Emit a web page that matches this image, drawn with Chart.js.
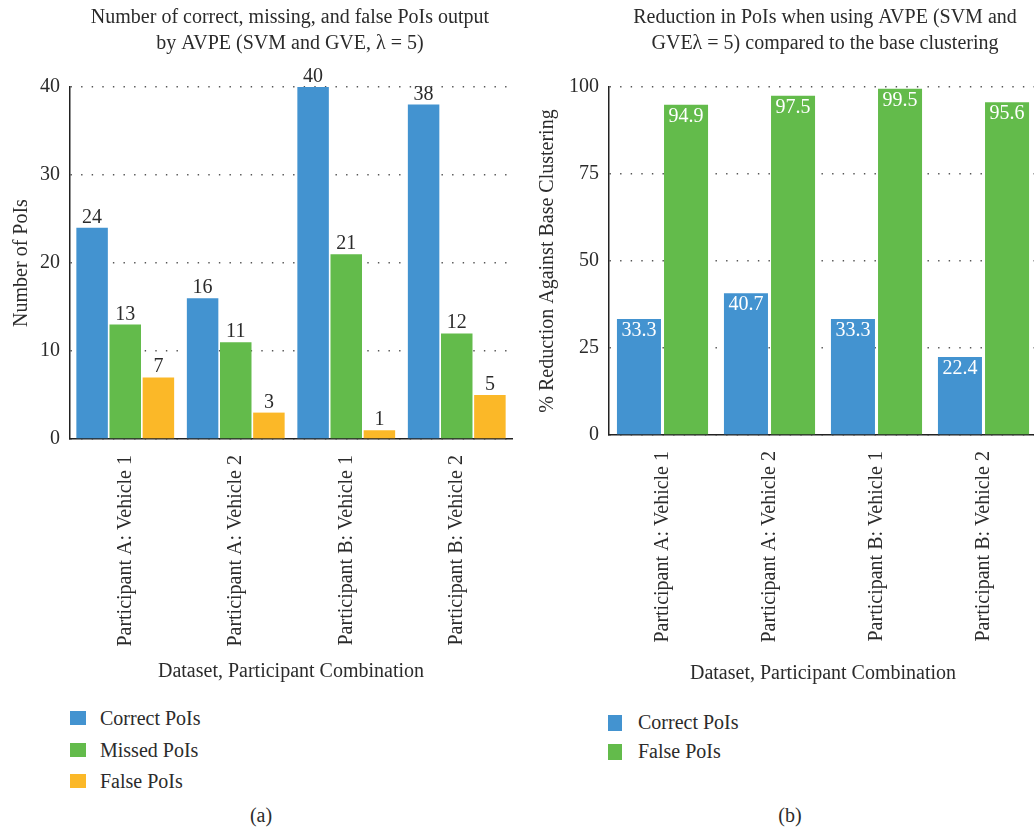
<!DOCTYPE html>
<html>
<head>
<meta charset="utf-8">
<script src="https://cdn.jsdelivr.net/npm/chart.js@4/dist/chart.umd.min.js"></script>
<style>
  body { margin: 0; width: 1034px; height: 829px; overflow: hidden; background: #fff;
         position: relative; font-family: "Liberation Serif", serif; color: #2b2b2b; }
  .panel { position: absolute; top: 0; }
  .key { position: absolute; font-size: 20px; line-height: 22px; white-space: nowrap; }
  .key span { position: absolute; top: 4px; left: 0; }
  .key b { font-weight: normal; position: absolute; left: 30px; top: 0; }
  .cap { position: absolute; top: 804px; font-size: 20px; transform: translateX(-50%); }
</style>
</head>
<body>
<div class="panel" style="left:0;width:580px;height:700px"><canvas id="countChart" width="580" height="700"></canvas></div>
<div class="panel" style="left:520px;width:610px;height:700px"><canvas id="reductionChart" width="610" height="700"></canvas></div>
<div id="countKey"></div>
<div id="reductionKey"></div>
<div class="cap" style="left:261px">(a)</div>
<div class="cap" style="left:790px">(b)</div>

<script>
const categories = [
  "Participant A: Vehicle 1",
  "Participant A: Vehicle 2",
  "Participant B: Vehicle 1",
  "Participant B: Vehicle 2"
];

// (a) counts of PoIs
const countSeries = ["Correct PoIs", "Missed PoIs", "False PoIs"];
const correctPois = [24, 16, 40, 38];
const missedPois = [13, 11, 21, 12];
const falsePois = [7, 3, 1, 5];
const countTicks = [0, 10, 20, 30, 40];

// (b) % reduction against base clustering
const reductionSeries = ["Correct PoIs", "False PoIs"];
const correctReduction = [33.3, 40.7, 33.3, 22.4];
const falseReduction = [94.9, 97.5, 99.5, 95.6];
const reductionTicks = [0, 25, 50, 75, 100];

const BLUE = "#4393d0";
const GREEN = "#63bb4b";
const ORANGE = "#fbb828";
const TEXT = "#2b2b2b";
const FONT = "Liberation Serif";
const SIZE = 20;

// prints each bar's value, above the bar or just inside its top
const valueLabels = {
  id: "valueLabels",
  afterDatasetsDraw(chart, args, opts) {
    const ctx = chart.ctx;
    ctx.save();
    ctx.font = SIZE + "px '" + FONT + "'";
    ctx.textAlign = "center";
    ctx.textBaseline = "alphabetic";
    chart.data.datasets.forEach((ds, i) => {
      chart.getDatasetMeta(i).data.forEach((bar, j) => {
        const v = ds.data[j];
        if (opts.inside) {
          ctx.fillStyle = "#fff";
          ctx.fillText(v.toFixed(1), bar.x, bar.y + 17);
        } else {
          ctx.fillStyle = TEXT;
          ctx.fillText(String(v), bar.x, bar.y - 5);
        }
      });
    });
    ctx.restore();
  }
};

// yWidth / rightWidth fix where the plot area starts and ends,
// xHeight fixes where the category axis sits
function scalesFor(ticks, yTitle, yWidth, yTitlePad, rightWidth, xHeight, xTitlePad) {
  const font = { family: FONT, size: SIZE };
  return {
    x: {
      grid: { display: false },
      border: { display: true, color: "#222", width: 1.5 },
      ticks: { autoSkip: false, minRotation: 90, maxRotation: 90, padding: 8, color: TEXT, font },
      title: { display: true, text: "Dataset, Participant Combination", color: TEXT, font,
               padding: { top: 0, bottom: xTitlePad } },
      afterFit(s) { s.height = xHeight; }
    },
    y: {
      min: ticks[0],
      max: ticks[ticks.length - 1],
      grid: { color: "#555", lineWidth: 1.4, drawTicks: false },
      border: { display: true, color: "#222", width: 1.5, dash: [1.4, 9.2] },
      ticks: { stepSize: ticks[1] - ticks[0], padding: 10, color: TEXT, font },
      title: { display: true, text: yTitle, color: TEXT, font: { family: FONT, size: SIZE, lineHeight: 1.2 },
               padding: { top: yTitlePad, bottom: 0 } },
      afterFit(s) { s.width = yWidth; }
    },
    // empty right-hand margin so the title centres over the whole panel
    yRight: {
      position: "right",
      grid: { display: false, drawTicks: false },
      border: { display: false },
      ticks: { display: false },
      afterFit(s) { s.width = rightWidth; }
    }
  };
}

function titleFor(lines) {
  return {
    display: true,
    text: lines,
    color: TEXT,
    font: { family: FONT, size: SIZE, weight: "normal", lineHeight: 1.3 },
    padding: { top: 5, bottom: 30 }
  };
}

new Chart(document.getElementById("countChart"), {
  type: "bar",
  data: {
    labels: categories,
    datasets: [
      { label: countSeries[0], data: correctPois, backgroundColor: BLUE },
      { label: countSeries[1], data: missedPois, backgroundColor: GREEN },
      { label: countSeries[2], data: falsePois, backgroundColor: ORANGE }
    ]
  },
  options: {
    responsive: false,
    animation: false,
    devicePixelRatio: 1,
    categoryPercentage: 0.9,
    barPercentage: 0.95,
    layout: { padding: 0 },
    scales: scalesFor(countTicks, "Number of PoIs", 70, 10, 68, 261, 16),
    plugins: {
      legend: { display: false },
      tooltip: { enabled: false },
      title: titleFor(["Number of correct, missing, and false PoIs output", "by AVPE (SVM and GVE, \u03bb = 5)"]),
      valueLabels: { inside: false }
    }
  },
  plugins: [valueLabels]
});

new Chart(document.getElementById("reductionChart"), {
  type: "bar",
  data: {
    labels: categories,
    datasets: [
      { label: reductionSeries[0], data: correctReduction, backgroundColor: BLUE },
      { label: reductionSeries[1], data: falseReduction, backgroundColor: GREEN }
    ]
  },
  options: {
    responsive: false,
    animation: false,
    devicePixelRatio: 1,
    categoryPercentage: 0.88,
    barPercentage: 0.935,
    layout: { padding: 0 },
    scales: scalesFor(reductionTicks, "% Reduction Against Base Clustering", 89, 16, 93, 265, 14),
    plugins: {
      legend: { display: false },
      tooltip: { enabled: false },
      title: titleFor(["Reduction in PoIs when using AVPE (SVM and", "GVE\u03bb = 5) compared to the base clustering"]),
      valueLabels: { inside: true }
    }
  },
  plugins: [valueLabels]
});

// legends listed one series per row under each panel
function buildKey(id, names, colors, x, y0, step, sw, sh) {
  const host = document.getElementById(id);
  names.forEach((name, i) => {
    const row = document.createElement("div");
    row.className = "key";
    row.style.left = x + "px";
    row.style.top = (y0 + i * step) + "px";
    row.innerHTML = '<span style="width:' + sw + 'px;height:' + sh + 'px;background:' + colors[i] + '"></span><b>' + name + "</b>";
    host.appendChild(row);
  });
}
buildKey("countKey", countSeries, [BLUE, GREEN, ORANGE], 70, 707, 31.5, 16, 14);
buildKey("reductionKey", reductionSeries, [BLUE, GREEN], 608, 711, 29, 14, 16);
</script>
</body>
</html>
